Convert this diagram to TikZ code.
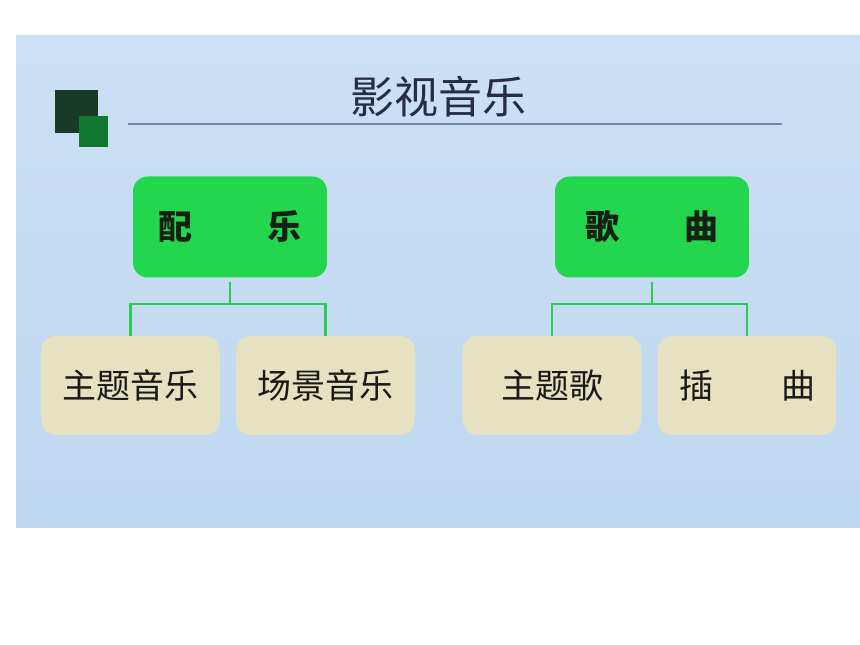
\documentclass[tikz,border=0pt]{standalone}
\usepackage{fontspec}
\newfontfamily\cjk{Noto Sans CJK SC}
\usepackage{xcolor}

\begin{document}
\begin{tikzpicture}[x=0.75pt,y=0.75pt,yscale=-1,xscale=1,
  mainbox/.style={fill={rgb, 255:red, 36; green, 214; blue, 78 }, rounded corners=11pt, minimum width=145.5pt, minimum height=75.75pt, inner sep=0pt, text={rgb, 255:red, 22; green, 32; blue, 22 }, font=\cjk\bfseries\fontsize{25.5}{30}\selectfont},
  subbox/.style={fill={rgb, 255:red, 229; green, 225; blue, 193 }, rounded corners=11pt, minimum width=134pt, minimum height=74.25pt, inner sep=0pt, text={rgb, 255:red, 26; green, 26; blue, 24 }, font=\cjk\fontsize{25.5}{30}\selectfont},
  link/.style={draw={rgb, 255:red, 42; green, 204; blue, 82 }, line width=2pt}]
\useasboundingbox (0,0) rectangle (860,645);

%Shape: Rectangle [slide]
\fill [top color={rgb, 255:red, 204; green, 224; blue, 244 }, bottom color={rgb, 255:red, 190; green, 215; blue, 240 }] (16,36) rectangle (860,527);
%Shape: Square [dark]
\fill [fill={rgb, 255:red, 26; green, 58; blue, 40 }] (55,90) rectangle (98,133);
%Shape: Square [green]
\fill [fill={rgb, 255:red, 16; green, 120; blue, 48 }] (79,116) rectangle (108,147);
%Straight Lines [title rule]
\draw [color={rgb, 255:red, 118; green, 134; blue, 158 }, line width=1.2pt] (128,124) -- (782,124);

% Text Node
\node (title) at (438,97) [text={rgb, 255:red, 38; green, 44; blue, 70 }, font=\cjk\fontsize{33}{38}\selectfont] {影视音乐};

% Top boxes
\node (peiyue) at (230,227) [mainbox] {配\hspace{57pt}乐};
\node (gequ) at (652,227) [mainbox] {歌\hspace{49pt}曲};

% Lower boxes
\node (zhuti) at (130.5,385.5) [subbox] {主题音乐};
\node (changjing) at (325.5,385.5) [subbox] {场景音乐};
\node (zhutige) at (552,385.5) [subbox] {主题歌};
\node (chaqu) at (747,385.5) [subbox] {插\hspace{51pt}曲};

%Straight Lines [connectors]
\coordinate (pjoin) at (230,304);
\coordinate (gjoin) at (652,304);
\draw [link, shorten <=3pt] (peiyue.south) -- (pjoin);
\draw [link] (zhuti.north) |- (pjoin) -| (changjing.north);
\draw [link, shorten <=3pt] (gequ.south) -- (gjoin);
\draw [link] (zhutige.north) |- (gjoin) -| (chaqu.north);

\end{tikzpicture}
\end{document}
